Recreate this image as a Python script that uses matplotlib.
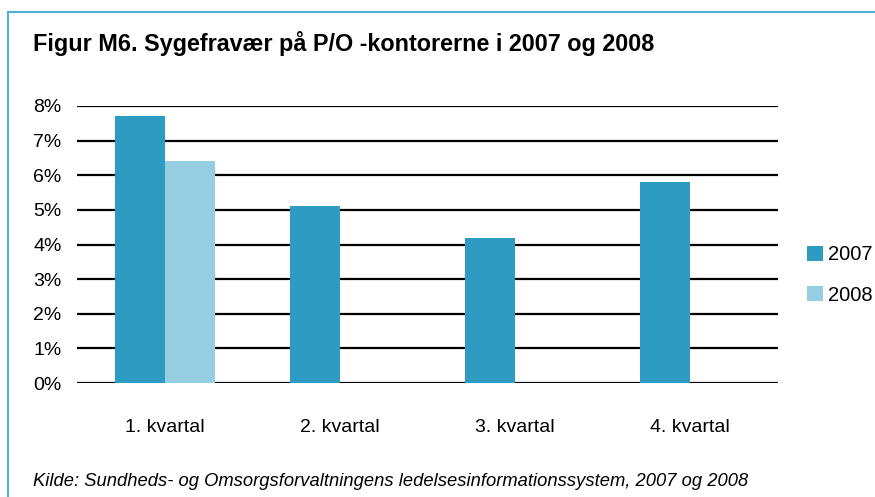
import matplotlib.pyplot as plt
from matplotlib.patches import Rectangle
import numpy as np

plt.rcParams['font.family'] = ['Liberation Sans', 'DejaVu Sans']

quarters = ['1. kvartal', '2. kvartal', '3. kvartal', '4. kvartal']
values_2007 = [7.7, 5.1, 4.2, 5.8]
values_2008 = [6.4, np.nan, np.nan, np.nan]
y_ticks = [0, 1, 2, 3, 4, 5, 6, 7, 8]

col_2007 = '#2E9BC2'
col_2008 = '#96CDE1'

fig = plt.figure(figsize=(8.75, 4.97), dpi=100)
ax = fig.add_axes([77 / 875, 1 - 383 / 497, 701 / 875, 277 / 497])

x = np.arange(len(quarters))
w = 0.286
ax.bar(x - w / 2, values_2007, w, color=col_2007, label='2007', zorder=3)
ax.bar(x + w / 2, values_2008, w, color=col_2008, label='2008', zorder=3)

ax.set_xlim(-0.5, 3.5)
ax.set_ylim(0, 8)
ax.set_yticks(y_ticks)
ax.set_yticklabels([f'{t}%' for t in y_ticks])
ax.set_xticks(x)
ax.set_xticklabels(quarters)
ax.tick_params(axis='both', length=0, labelsize=14)
ax.tick_params(axis='y', pad=11)
ax.tick_params(axis='x', pad=26)
for s in ax.spines.values():
    s.set_visible(False)
ax.grid(axis='y', color='black', linewidth=1.6, zorder=1)
ax.set_axisbelow(True)

ax.legend(loc='center left', bbox_to_anchor=(1.03, 0.39), frameon=False,
          fontsize=14.5, handlelength=0.8, handleheight=0.8, handletextpad=0.25,
          labelspacing=1.05, borderaxespad=0)

fig.text(33 / 875, 1 - 44 / 497, 'Figur M6. Sygefravær på P/O -kontorerne i 2007 og 2008',
         fontsize=16.8, fontweight='bold', va='center', ha='left')
fig.text(33 / 875, 1 - 481 / 497,
         'Kilde: Sundheds- og Omsorgsforvaltningens ledelsesinformationssystem, 2007 og 2008',
         fontsize=13.2, style='italic', va='center', ha='left')

fig.patches.append(Rectangle((8 / 875, -0.1), 1.0, 1 - 12 / 497 + 0.1,
                             transform=fig.transFigure, fill=False,
                             edgecolor='#4FB0D8', linewidth=1.5))

fig.savefig('out.png', dpi=100)
